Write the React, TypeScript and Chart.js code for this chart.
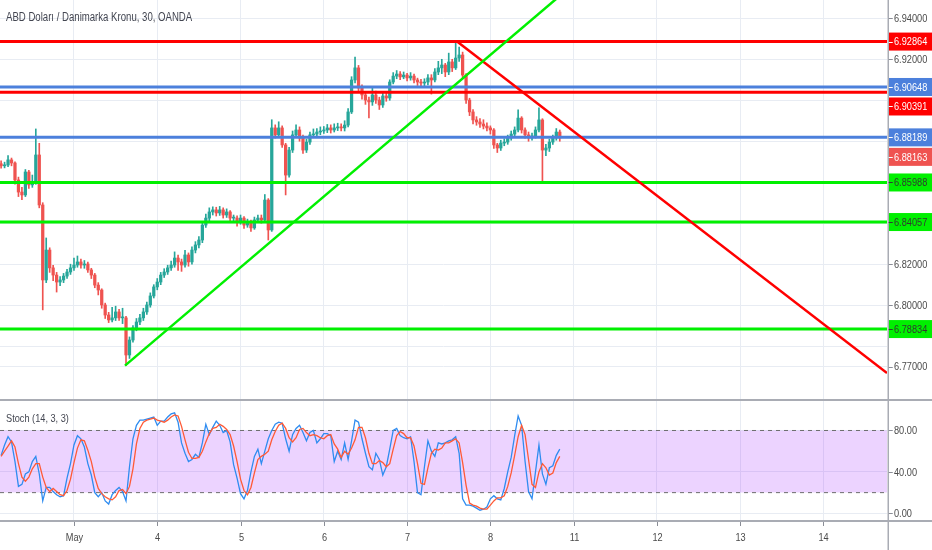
import React, { useEffect, useRef } from 'react';
import { Chart, registerables } from 'chart.js';

Chart.register(...registerables);

// ---------- data ----------
const title = 'ABD Doları / Danimarka Kronu, 30, OANDA';
const stochTitle = 'Stoch (14, 3, 3)';

const firstOpen = 6.869;
const closes = [
  6.8680, 6.8684, 6.8709, 6.8694, 6.8611, 6.8552, 6.8538, 6.8650, 6.8587, 6.8596,
  6.8733, 6.8489, 6.8123, 6.8269, 6.8182, 6.8147, 6.8113, 6.8123, 6.8142, 6.8162,
  6.8182, 6.8196, 6.8211, 6.8196, 6.8201, 6.8172, 6.8147, 6.8098, 6.8074, 6.8001,
  6.7952, 6.7928, 6.7938, 6.7967, 6.7938, 6.7938, 6.7757, 6.7830, 6.7889, 6.7918,
  6.7938, 6.7967, 6.8001, 6.8045, 6.8089, 6.8113, 6.8147, 6.8162, 6.8182, 6.8196,
  6.8230, 6.8211, 6.8196, 6.8245, 6.8211, 6.8269, 6.8294, 6.8318, 6.8391, 6.8425,
  6.8455, 6.8465, 6.8450, 6.8465, 6.8440, 6.8455, 6.8425, 6.8425, 6.8406, 6.8425,
  6.8391, 6.8406, 6.8377, 6.8416, 6.8425, 6.8416, 6.8513, 6.8367, 6.8865, 6.8831,
  6.8865, 6.8782, 6.8635, 6.8757, 6.8831, 6.8855, 6.8816, 6.8757, 6.8796, 6.8831,
  6.8835, 6.8845, 6.8850, 6.8855, 6.8865, 6.8855, 6.8865, 6.8870, 6.8865, 6.8879,
  6.8943, 6.9099, 6.9158, 6.9060, 6.9026, 6.9001, 6.8992, 6.9026, 6.9001, 6.8977,
  6.9021, 6.9011, 6.9089, 6.9118, 6.9128, 6.9114, 6.9123, 6.9109, 6.9118, 6.9099,
  6.9089, 6.9084, 6.9089, 6.9109, 6.9099, 6.9138, 6.9158, 6.9172, 6.9138, 6.9187,
  6.9158, 6.9206, 6.9221, 6.9123, 6.9001, 6.8943, 6.8904, 6.8894, 6.8884, 6.8874,
  6.8865, 6.8855, 6.8782, 6.8767, 6.8791, 6.8796, 6.8816, 6.8835, 6.8855, 6.8913,
  6.8855, 6.8831, 6.8816, 6.8826, 6.8855, 6.8904, 6.8757, 6.8767, 6.8796, 6.8816,
  6.8845, 6.8816,
];
const highs = [
  6.8705, 6.8698, 6.8730, 6.8718, 6.8700, 6.8625, 6.8575, 6.8662, 6.8658, 6.8635,
  6.8860, 6.8790, 6.8500, 6.8328, 6.8280, 6.8195, 6.8160, 6.8140, 6.8155, 6.8175,
  6.8200, 6.8230, 6.8240, 6.8225, 6.8218, 6.8210, 6.8180, 6.8155, 6.8110, 6.8080,
  6.8010, 6.7965, 6.7990, 6.7995, 6.7980, 6.7985, 6.7945, 6.7845, 6.7900, 6.7935,
  6.7955, 6.7985, 6.8015, 6.8060, 6.8100, 6.8130, 6.8160, 6.8178, 6.8195, 6.8215,
  6.8260, 6.8245, 6.8225, 6.8268, 6.8255, 6.8285, 6.8310, 6.8335, 6.8405, 6.8445,
  6.8475, 6.8480, 6.8478, 6.8482, 6.8475, 6.8470, 6.8462, 6.8440, 6.8436, 6.8440,
  6.8432, 6.8420, 6.8415, 6.8430, 6.8440, 6.8440, 6.8540, 6.8520, 6.8905, 6.8880,
  6.8895, 6.8875, 6.8790, 6.8770, 6.8850, 6.8880, 6.8870, 6.8830, 6.8810, 6.8845,
  6.8860, 6.8862, 6.8870, 6.8872, 6.8882, 6.8880, 6.8885, 6.8888, 6.8885, 6.8900,
  6.8960, 6.9115, 6.9211, 6.9170, 6.9075, 6.9040, 6.9015, 6.9060, 6.9045, 6.9015,
  6.9040, 6.9035, 6.9100, 6.9135, 6.9145, 6.9140, 6.9138, 6.9132, 6.9135, 6.9128,
  6.9108, 6.9102, 6.9105, 6.9125, 6.9125, 6.9155, 6.9190, 6.9200, 6.9180, 6.9230,
  6.9200, 6.9286, 6.9260, 6.9235, 6.9130, 6.9010, 6.8955, 6.8920, 6.8910, 6.8905,
  6.8890, 6.8875, 6.8862, 6.8790, 6.8805, 6.8812, 6.8830, 6.8850, 6.8870, 6.8953,
  6.8920, 6.8865, 6.8845, 6.8840, 6.8870, 6.8963, 6.8910, 6.8785, 6.8810, 6.8830,
  6.8862, 6.8855,
];
const lows = [
  6.8668, 6.8670, 6.8676, 6.8680, 6.8590, 6.8530, 6.8515, 6.8530, 6.8570, 6.8575,
  6.8590, 6.8475, 6.7977, 6.8110, 6.8160, 6.8120, 6.8064, 6.8095, 6.8110, 6.8130,
  6.8150, 6.8170, 6.8185, 6.8180, 6.8180, 6.8160, 6.8130, 6.8085, 6.8050, 6.7985,
  6.7935, 6.7915, 6.7918, 6.7925, 6.7925, 6.7910, 6.7705, 6.7740, 6.7820, 6.7875,
  6.7905, 6.7925, 6.7955, 6.7990, 6.8035, 6.8075, 6.8100, 6.8135, 6.8150, 6.8170,
  6.8185, 6.8170, 6.8165, 6.8185, 6.8190, 6.8200, 6.8255, 6.8280, 6.8305, 6.8380,
  6.8410, 6.8440, 6.8435, 6.8438, 6.8425, 6.8428, 6.8410, 6.8408, 6.8385, 6.8395,
  6.8375, 6.8380, 6.8360, 6.8370, 6.8405, 6.8400, 6.8410, 6.8318, 6.8360, 6.8815,
  6.8820, 6.8770, 6.8538, 6.8625, 6.8745, 6.8820, 6.8800, 6.8740, 6.8745, 6.8785,
  6.8820, 6.8825, 6.8832, 6.8838, 6.8842, 6.8840, 6.8845, 6.8852, 6.8850, 6.8850,
  6.8870, 6.8935, 6.9085, 6.9045, 6.9005, 6.8980, 6.8914, 6.8975, 6.8985, 6.8955,
  6.8965, 6.8995, 6.9000, 6.9080, 6.9105, 6.9100, 6.9105, 6.9095, 6.9098, 6.9085,
  6.9072, 6.9068, 6.9070, 6.9075, 6.9030, 6.9090, 6.9125, 6.9130, 6.9115, 6.9125,
  6.9140, 6.9150, 6.9190, 6.9110, 6.8985, 6.8925, 6.8885, 6.8878, 6.8868, 6.8860,
  6.8850, 6.8835, 6.8765, 6.8745, 6.8755, 6.8778, 6.8785, 6.8805, 6.8825, 6.8845,
  6.8840, 6.8815, 6.8800, 6.8805, 6.8815, 6.8845, 6.8595, 6.8730, 6.8750, 6.8785,
  6.8805, 6.8800,
];
const stochK = [
  56, 66, 74, 69, 50, 26, 28, 38, 40, 50,
  55, 38, 12, 25, 25, 21, 18, 16, 17, 34,
  48, 66, 75, 72, 64, 48, 37, 20, 16, 20,
  12, 9, 18, 22, 25, 21, 12, 45, 72, 85,
  90, 90, 91, 92, 93, 85, 89, 89, 93, 96,
  97, 88, 68, 58, 50, 52, 57, 54, 68, 86,
  76, 83, 89, 85, 78, 80, 69, 47, 34, 19,
  14, 22, 40, 55, 62, 48, 60, 72, 80, 86,
  88, 87, 72, 60, 76, 82, 85, 78, 70, 78,
  80, 68, 72, 77, 77, 75, 50, 60, 52, 68,
  52, 70, 90, 88, 72, 58, 45, 42, 58, 52,
  37, 45, 62, 80, 82, 75, 73, 72, 74, 50,
  20, 18, 45, 70, 60, 55, 68, 67, 68, 70,
  71, 74, 58, 14, 8, 8, 7, 5, 3, 4,
  6, 14, 17, 14, 13, 24, 40, 54, 75, 94,
  85, 50, 21, 14, 40, 66, 38, 28, 44, 46,
  56, 62,
];
const stochD = [
  55, 60, 65, 70, 64, 48, 35, 31, 35, 43,
  48, 48, 35, 25, 21, 24, 21, 18, 17, 22,
  33, 49, 63, 71, 70, 61, 50, 35, 24, 19,
  16, 14, 13, 16, 22, 23, 19, 26, 43, 67,
  82, 88, 90, 91, 92, 90, 89, 88, 90, 93,
  95, 94, 84, 71, 59, 53, 53, 54, 60, 69,
  77, 82, 83, 86, 84, 81, 76, 65, 50, 33,
  22, 18, 25, 39, 52, 55, 57, 60, 71, 79,
  85, 87, 82, 73, 69, 73, 81, 82, 78, 75,
  76, 75, 73, 72, 75, 76, 67, 62, 54, 60,
  57, 63, 71, 83, 83, 73, 58, 48, 48, 51,
  49, 45, 48, 62, 75, 79, 77, 73, 73, 65,
  48, 29, 28, 44, 58, 62, 61, 63, 68, 68,
  70, 72, 68, 49, 27, 10, 8, 7, 5, 4,
  4, 8, 12, 15, 15, 17, 26, 39, 56, 74,
  85, 76, 52, 28, 25, 40, 48, 44, 37, 39,
  49, 55,
];

const dayTickIdx = [21, 45, 69, 93, 117, 141, 165, 189, 213, 237];
const dayLabels = ['May', '4', '5', '6', '7', '8', '11', '12', '13', '14'];

const priceGridTicks = [6.94, 6.92, 6.9, 6.88, 6.86, 6.84, 6.82, 6.8, 6.78, 6.77];
const priceTickLabels = [6.94, 6.92, 6.82, 6.8, 6.77];
const stochGridTicks = [80, 40, 0];
const stochTickLabels = [80, 40, 0];
const stochBands = [80, 20];

const levels = [6.92864, 6.90648, 6.90391, 6.88189, 6.85988, 6.84057, 6.78834];
const lastPrice = 6.88163;

const greenTrendX = [35.7, 165];
const greenTrendY = [6.7705, 6.9567];
const redTrendX = [131.4, 255.3];
const redTrendY = [6.92864, 6.7669];

// ---------- style / layout ----------
const X_MIN = -0.317;
const X_MAX = 255.3;
const PRICE_MIN = 6.75421;
const PRICE_MAX = 6.94893;
const STOCH_MIN = -7.4;
const STOCH_MAX = 110.4;

const UP = '#26a69a';
const DOWN = '#ef5350';
const RED = '#ff0000';
const BLUE = '#4c80dc';
const GREEN = '#00f000';
const levelColors = [RED, BLUE, RED, BLUE, GREEN, GREEN, GREEN];
const LAST_COLOR = '#ef5350';
const GRID = '#e8ecf3';
const AXIS_LINE = '#a9acb4';
const TEXT = '#4a4a4a';
const FONT = '11.5px "Liberation Sans", Arial, sans-serif';
const TITLE_FONT = '12px "Liberation Sans", Arial, sans-serif';
const CONDENSE = 0.8;
const AXIS_X = 888.25;
const LABEL_X = 894;

function fillCondensed(ctx: CanvasRenderingContext2D, t: string, x: number, y: number) {
  const w = ctx.measureText(t).width;
  ctx.fillText(t, x, y, w * CONDENSE);
}

const opens = closes.map((c, i) => (i === 0 ? firstOpen : closes[i - 1]));
const candleColors = closes.map((c, i) => (c >= opens[i] ? UP : DOWN));

function hline(value: number, color: string, width: number, extra: any = {}) {
  return {
    type: 'line',
    data: [
      { x: X_MIN, y: value },
      { x: X_MAX, y: value },
    ],
    borderColor: color,
    borderWidth: width,
    pointRadius: 0,
    fill: false,
    ...extra,
  };
}

const topPlugin = {
  id: 'topDecor',
  afterDraw(chart: any) {
    const { ctx, scales } = chart;
    const ys = scales.y;
    ctx.save();
    ctx.strokeStyle = AXIS_LINE;
    ctx.lineWidth = 1.5;
    ctx.beginPath();
    ctx.moveTo(AXIS_X, 0);
    ctx.lineTo(AXIS_X, chart.height);
    ctx.stroke();

    ctx.font = FONT;
    ctx.textBaseline = 'middle';
    ctx.textAlign = 'left';
    for (const v of priceTickLabels) {
      const py = ys.getPixelForValue(v);
      ctx.strokeStyle = '#8a8d96';
      ctx.lineWidth = 1;
      ctx.beginPath();
      ctx.moveTo(AXIS_X + 0.5, Math.round(py) + 0.5);
      ctx.lineTo(AXIS_X + 4.5, Math.round(py) + 0.5);
      ctx.stroke();
      ctx.fillStyle = TEXT;
      fillCondensed(ctx, v.toFixed(5), LABEL_X, py + 0.5);
    }

    const tags = levels.map((v, i) => ({ v, color: levelColors[i], text: levelColors[i] === GREEN ? '#2f3a2f' : '#ffffff' }));
    tags.push({ v: lastPrice, color: LAST_COLOR, text: '#ffffff' });
    tags.sort((a, b) => b.v - a.v);
    let prev = -1000;
    for (const t of tags) {
      let py = ys.getPixelForValue(t.v);
      if (py < prev + 19.5) py = prev + 19.5;
      prev = py;
      ctx.fillStyle = t.color;
      ctx.fillRect(AXIS_X + 0.75, py - 9, chart.width - AXIS_X, 18);
      ctx.strokeStyle = t.text;
      ctx.lineWidth = 1;
      ctx.beginPath();
      ctx.moveTo(AXIS_X + 0.5, Math.round(py) + 0.5);
      ctx.lineTo(AXIS_X + 4.5, Math.round(py) + 0.5);
      ctx.stroke();
      ctx.fillStyle = t.text;
      fillCondensed(ctx, t.v.toFixed(5), LABEL_X, py + 0.5);
    }

    ctx.textBaseline = 'alphabetic';
    ctx.font = TITLE_FONT;
    ctx.fillStyle = '#434651';
    fillCondensed(ctx, title, 6, 21);
    ctx.restore();
  },
};

const bottomPlugin = {
  id: 'bottomDecor',
  afterDraw(chart: any) {
    const { ctx, scales, chartArea } = chart;
    const ys = scales.y;
    const xs = scales.x;
    ctx.save();
    ctx.strokeStyle = AXIS_LINE;
    ctx.lineWidth = 2;
    ctx.beginPath();
    ctx.moveTo(0, 1);
    ctx.lineTo(chart.width, 1);
    ctx.moveTo(0, chartArea.bottom);
    ctx.lineTo(chart.width, chartArea.bottom);
    ctx.stroke();
    ctx.lineWidth = 1.5;
    ctx.beginPath();
    ctx.moveTo(AXIS_X, 0);
    ctx.lineTo(AXIS_X, chart.height);
    ctx.stroke();

    ctx.font = FONT;
    ctx.textAlign = 'left';
    ctx.textBaseline = 'middle';
    for (const v of stochTickLabels) {
      const py = ys.getPixelForValue(v);
      ctx.strokeStyle = '#8a8d96';
      ctx.lineWidth = 1;
      ctx.beginPath();
      ctx.moveTo(AXIS_X + 0.5, Math.round(py) + 0.5);
      ctx.lineTo(AXIS_X + 4.5, Math.round(py) + 0.5);
      ctx.stroke();
      ctx.fillStyle = TEXT;
      fillCondensed(ctx, v.toFixed(2), LABEL_X, py + 0.5);
    }

    ctx.textAlign = 'center';
    ctx.textBaseline = 'alphabetic';
    dayTickIdx.forEach((d, i) => {
      const px = Math.round(xs.getPixelForValue(d)) + 0.5;
      ctx.strokeStyle = '#8a8d96';
      ctx.lineWidth = 1;
      ctx.beginPath();
      ctx.moveTo(px, chartArea.bottom + 1);
      ctx.lineTo(px, chartArea.bottom + 5);
      ctx.stroke();
      ctx.fillStyle = TEXT;
      fillCondensed(ctx, dayLabels[i], px, 142);
    });

    ctx.textAlign = 'left';
    ctx.fillStyle = '#434651';
    fillCondensed(ctx, stochTitle, 6, 22.5);
    ctx.restore();
  },
};

function xScale(heightAfter: number) {
  return {
    type: 'linear',
    min: X_MIN,
    max: X_MAX,
    offset: false,
    ticks: { display: false },
    grid: { color: GRID, drawTicks: false, offset: false, lineWidth: 1 },
    border: { display: false },
    afterBuildTicks: (s: any) => {
      s.ticks = dayTickIdx.map((v) => ({ value: v }));
    },
    afterFit: (s: any) => {
      s.height = heightAfter;
      s.paddingLeft = 0;
      s.paddingRight = 0;
    },
  };
}

function yScale(min: number, max: number, ticks: number[]) {
  return {
    type: 'linear',
    position: 'right',
    min,
    max,
    ticks: { display: false },
    grid: { color: GRID, drawTicks: false, lineWidth: 1 },
    border: { display: false },
    afterBuildTicks: (s: any) => {
      s.ticks = ticks.map((v) => ({ value: v }));
    },
    afterFit: (s: any) => {
      s.width = 45;
      s.paddingTop = 0;
      s.paddingBottom = 0;
    },
  };
}

export default function App() {
  const topRef = useRef<HTMLCanvasElement>(null);
  const botRef = useRef<HTMLCanvasElement>(null);

  useEffect(() => {
    document.body.style.margin = '0';
    const wickData = closes.map((c, i) => ({ x: i, y: [lows[i], highs[i]] }));
    const bodyData = closes.map((c, i) => ({ x: i, y: [opens[i], c] }));

    const topChart = new Chart(topRef.current as HTMLCanvasElement, {
      type: 'bar',
      data: {
        datasets: [
          {
            type: 'bar',
            data: wickData,
            backgroundColor: candleColors,
            barThickness: 1,
            grouped: false,
            borderWidth: 0,
            order: 20,
          },
          {
            type: 'bar',
            data: bodyData,
            backgroundColor: candleColors,
            barThickness: 2.6,
            minBarLength: 1,
            grouped: false,
            borderWidth: 0,
            order: 19,
          },
          ...levels.map((v, i) => ({ ...hline(v, levelColors[i], 3), order: 3 })),
          {
            type: 'line',
            data: greenTrendX.map((x, i) => ({ x, y: greenTrendY[i] })),
            borderColor: GREEN,
            borderWidth: 2.5,
            pointRadius: 0,
            fill: false,
            order: 1,
          },
          {
            type: 'line',
            data: redTrendX.map((x, i) => ({ x, y: redTrendY[i] })),
            borderColor: RED,
            borderWidth: 2.5,
            pointRadius: 0,
            fill: false,
            order: 1,
          },
        ],
      },
      options: {
        responsive: false,
        maintainAspectRatio: false,
        animation: false,
        events: [],
        layout: { padding: 0 },
        plugins: { legend: { display: false }, tooltip: { enabled: false } },
        scales: {
          x: xScale(0),
          y: yScale(PRICE_MIN, PRICE_MAX, priceGridTicks),
        },
      },
      plugins: [topPlugin],
    } as any);

    const botChart = new Chart(botRef.current as HTMLCanvasElement, {
      type: 'line',
      data: {
        datasets: [
          {
            ...hline(stochBands[0], '#6e6e6e', 1, { borderDash: [4, 4] }),
            order: 10,
          },
          {
            ...hline(stochBands[1], '#6e6e6e', 1, { borderDash: [4, 4] }),
            fill: '-1',
            backgroundColor: 'rgba(153, 21, 255, 0.19)',
            order: 10,
          },
          {
            type: 'line',
            data: stochK.map((v, i) => ({ x: i, y: v })),
            borderColor: '#2f8cf0',
            borderWidth: 1.3,
            pointRadius: 0,
            fill: false,
            order: 2,
          },
          {
            type: 'line',
            data: stochD.map((v, i) => ({ x: i, y: v })),
            borderColor: '#ff5a36',
            borderWidth: 1.3,
            pointRadius: 0,
            fill: false,
            order: 1,
          },
        ],
      },
      options: {
        responsive: false,
        maintainAspectRatio: false,
        animation: false,
        events: [],
        layout: { padding: 0 },
        plugins: { legend: { display: false }, tooltip: { enabled: false } },
        scales: {
          x: xScale(29),
          y: yScale(STOCH_MIN, STOCH_MAX, stochGridTicks),
        },
      },
      plugins: [bottomPlugin],
    } as any);

    return () => {
      topChart.destroy();
      botChart.destroy();
    };
  }, []);

  return (
    <div style={{ position: 'fixed', left: 0, top: 0, width: 932, height: 550, background: '#ffffff', overflow: 'hidden' }}>
      <canvas ref={topRef} width={932} height={399} style={{ position: 'absolute', left: 0, top: 0 }} />
      <canvas ref={botRef} width={932} height={151} style={{ position: 'absolute', left: 0, top: 399 }} />
    </div>
  );
}
